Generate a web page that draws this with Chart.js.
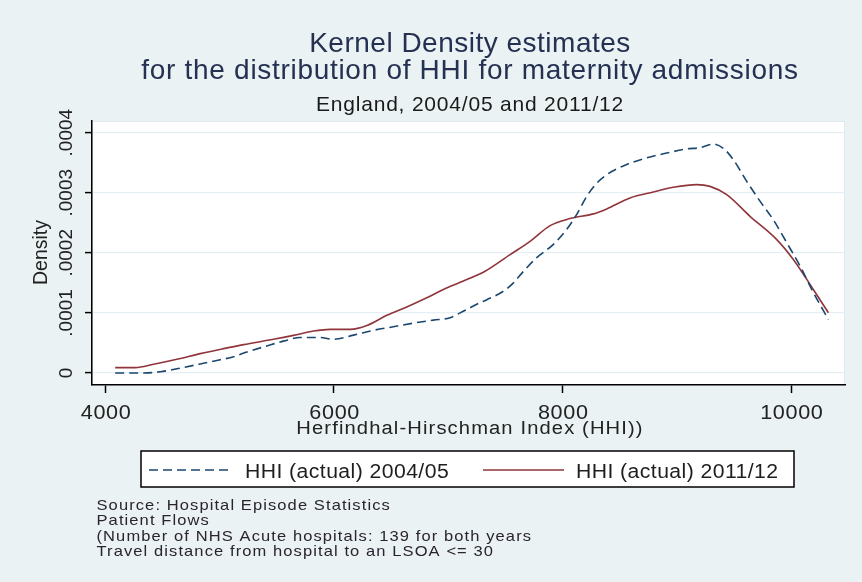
<!DOCTYPE html>
<html>
<head>
<meta charset="utf-8">
<title>Kernel Density estimates of HHI</title>
<script src="https://cdn.jsdelivr.net/npm/chart.js@4/dist/chart.umd.min.js"></script>
<style>
  html, body { margin: 0; padding: 0; background: #EAF2F3; }
  #wrap { width: 862px; height: 582px; }
</style>
</head>
<body>
<div id="wrap"><canvas id="c" width="862" height="582"></canvas></div>
<script>
// HHI grid points and kernel density, 2004/05
const hhi2004 = [4087, 4335, 4481, 4627, 4831, 5006, 5122, 5239, 5414, 5559, 5705, 5880, 5997,
  6172, 6347, 6521, 6696, 6871, 7017, 7105, 7279, 7338, 7483, 7571, 7658, 7775, 7921, 8037,
  8125, 8212, 8300, 8387, 8562, 8737, 8912, 9087, 9203, 9320, 9407, 9495, 9612, 9728, 9845,
  9962, 10079, 10195, 10327];
const dens2004 = [0.0000000, 0.0000000, 0.0000020, 0.0000070, 0.0000150, 0.0000220, 0.0000270,
  0.0000350, 0.0000450, 0.0000530, 0.0000590, 0.0000590, 0.0000560, 0.0000630, 0.0000710,
  0.0000770, 0.0000830, 0.0000880, 0.0000920, 0.0001000, 0.0001170, 0.0001220, 0.0001360,
  0.0001500, 0.0001690, 0.0001920, 0.0002140, 0.0002390, 0.0002640, 0.0002940, 0.0003160,
  0.0003300, 0.0003470, 0.0003580, 0.0003660, 0.0003730, 0.0003750, 0.0003810, 0.0003740,
  0.0003550, 0.0003190, 0.0002860, 0.0002550, 0.0002170, 0.0001780, 0.0001340, 0.0000890];

// HHI grid points and kernel density, 2011/12
const hhi2011 = [4087, 4262, 4423, 4627, 4831, 5035, 5210, 5472, 5647, 5822, 5968, 6143, 6289,
  6463, 6638, 6813, 6959, 7105, 7323, 7542, 7717, 7892, 8066, 8270, 8387, 8591, 8795, 8970,
  9174, 9291, 9437, 9641, 9875, 10020, 10195, 10327];
const dens2011 = [0.0000090, 0.0000090, 0.0000145, 0.0000228, 0.0000322, 0.0000405, 0.0000472,
  0.0000560, 0.0000626, 0.0000698, 0.0000726, 0.0000726, 0.0000790, 0.0000960, 0.0001100,
  0.0001252, 0.0001390, 0.0001510, 0.0001694, 0.0001970, 0.0002190, 0.0002453, 0.0002570,
  0.0002648, 0.0002731, 0.0002914, 0.0003013, 0.0003090, 0.0003135, 0.0003106, 0.0002968,
  0.0002608, 0.0002220, 0.0001889, 0.0001390, 0.0001003];

const seriesNames = ['HHI (actual) 2004/05', 'HHI (actual) 2011/12'];
const xTickValues = [4000, 6000, 8000, 10000];
const xTickLabels = ['4000', '6000', '8000', '10000'];
const yTickValues = [0, 0.0001, 0.0002, 0.0003, 0.0004];
const yTickLabels = ['0', '.0001', '.0002', '.0003', '.0004'];

const titleLines = ['Kernel Density estimates', 'for the distribution of HHI for maternity admissions'];
const subtitleText = 'England, 2004/05 and 2011/12';
const xTitle = 'Herfindhal-Hirschman Index (HHI))';
const yTitle = 'Density';
const noteLines = [
  'Source: Hospital Episode Statistics',
  'Patient Flows',
  '(Number of NHS Acute hospitals: 139 for both years',
  'Travel distance from hospital to an LSOA <= 30'
];

const FONT = '"Liberation Sans", Arial, Helvetica, sans-serif';
const BG = '#EAF2F3';

function toPoints(xs, ys) {
  return xs.map((x, i) => ({ x: x, y: ys[i] }));
}

// text helper: size, colour, alignment, rotation, horizontal stretch and tracking
function drawText(ctx, str, x, y, o) {
  ctx.save();
  ctx.font = o.size + 'px ' + FONT;
  ctx.fillStyle = o.color || '#1e1e1e';
  ctx.textAlign = o.align || 'left';
  ctx.textBaseline = 'alphabetic';
  if ('letterSpacing' in ctx) ctx.letterSpacing = (o.spacing || 0) + 'px';
  ctx.translate(x, y);
  if (o.rotate) ctx.rotate(o.rotate);
  if (o.sx) ctx.scale(o.sx, 1);
  ctx.fillText(str, 0, 0);
  ctx.restore();
}

// Backgrounds behind the scales, text and legend on top of everything
const decorations = {
  id: 'decorations',
  beforeDraw(chart) {
    const { ctx, chartArea: a } = chart;
    ctx.save();
    ctx.fillStyle = BG;
    ctx.fillRect(0, 0, chart.width, chart.height);
    ctx.fillStyle = '#ffffff';
    ctx.fillRect(a.left, a.top, a.right - a.left, a.bottom - a.top);
    ctx.strokeStyle = '#DDE9EE';
    ctx.lineWidth = 1;
    ctx.strokeRect(a.left + 0.5, a.top + 0.5, a.right - a.left - 1, a.bottom - a.top - 1);
    ctx.restore();
  },
  afterDraw(chart) {
    const { ctx } = chart;
    const xs = chart.scales.x, ys = chart.scales.y;

    // titles
    drawText(ctx, titleLines[0], 470, 51.5, { size: 28, align: 'center', color: '#253152', spacing: 0.5 });
    drawText(ctx, titleLines[1], 470, 78.5, { size: 28, align: 'center', color: '#253152', spacing: 0.7 });
    drawText(ctx, subtitleText, 470, 111, { size: 21, align: 'center', color: '#1a1a1a', spacing: 0.8 });

    // tick labels
    xTickValues.forEach((v, i) => {
      drawText(ctx, xTickLabels[i], xs.getPixelForValue(v) + 0.8, 419, { size: 20, align: 'center', color: '#222', sx: 1.08, spacing: 0.6 });
    });
    yTickValues.forEach((v, i) => {
      drawText(ctx, yTickLabels[i], 71.5, ys.getPixelForValue(v), { size: 19, align: 'center', color: '#222', rotate: -Math.PI / 2 });
    });

    // axis titles
    drawText(ctx, xTitle, 470, 433.5, { size: 18, align: 'center', color: '#222', sx: 1.12, spacing: 1.0 });
    drawText(ctx, yTitle, 46.5, 252.5, { size: 19.5, align: 'center', color: '#222', rotate: -Math.PI / 2 });

    // legend
    ctx.save();
    ctx.fillStyle = '#ffffff';
    ctx.fillRect(141, 451, 653, 36);
    ctx.strokeStyle = '#000000';
    ctx.lineWidth = 1.5;
    ctx.strokeRect(141, 451, 653, 36);
    ctx.restore();
    const keys = [
      { x1: 149, x2: 231, tx: 245 },
      { x1: 483, x2: 564, tx: 576 }
    ];
    chart.data.datasets.forEach((ds, i) => {
      const k = keys[i];
      ctx.save();
      ctx.strokeStyle = ds.borderColor;
      ctx.lineWidth = ds.borderWidth;
      ctx.setLineDash(ds.borderDash || []);
      ctx.beginPath();
      ctx.moveTo(k.x1, 470);
      ctx.lineTo(k.x2, 470);
      ctx.stroke();
      ctx.restore();
      drawText(ctx, seriesNames[i], k.tx, 477.5, { size: 20, color: '#1e1e1e', sx: 1.06, spacing: 0.4 });
    });

    // notes
    noteLines.forEach((line, i) => {
      drawText(ctx, line, 96.5, 509.5 + i * 15.5, { size: 15, color: '#2a2430', sx: 1.1, spacing: 1.0 });
    });
  }
};

new Chart(document.getElementById('c'), {
  type: 'line',
  data: {
    datasets: [
      {
        label: seriesNames[0],
        data: toPoints(hhi2004, dens2004),
        borderColor: '#1A476F',
        borderWidth: 1.6,
        borderDash: [9, 5],
        pointRadius: 0,
        fill: false,
        cubicInterpolationMode: 'monotone'
      },
      {
        label: seriesNames[1],
        data: toPoints(hhi2011, dens2011),
        borderColor: '#90353B',
        borderWidth: 1.6,
        pointRadius: 0,
        fill: false,
        cubicInterpolationMode: 'monotone'
      }
    ]
  },
  options: {
    responsive: false,
    devicePixelRatio: 1,
    animation: false,
    layout: { padding: { left: 0, right: 17, top: 121, bottom: 0 } },
    plugins: {
      legend: { display: false },
      title: { display: false },
      tooltip: { enabled: false }
    },
    scales: {
      x: {
        type: 'linear',
        min: 3884,
        max: 10472,
        afterBuildTicks: s => { s.ticks = xTickValues.map(v => ({ value: v })); },
        afterFit: s => { s.height = 197; },
        ticks: { display: false },
        grid: { drawOnChartArea: false, drawTicks: true, tickLength: 8, tickColor: '#000', tickWidth: 1.5 },
        border: { display: true, color: '#000', width: 1.5 }
      },
      y: {
        type: 'linear',
        min: -0.00002,
        max: 0.0004194,
        afterBuildTicks: s => { s.ticks = yTickValues.map(v => ({ value: v })); },
        afterFit: s => { s.width = 92; },
        ticks: { display: false },
        grid: { color: '#E6EFF3', lineWidth: 1.2, drawTicks: true, tickLength: 7, tickColor: '#000', tickWidth: 1.5 },
        border: { display: true, color: '#000', width: 1.5 }
      }
    }
  },
  plugins: [decorations]
});
</script>
</body>
</html>
